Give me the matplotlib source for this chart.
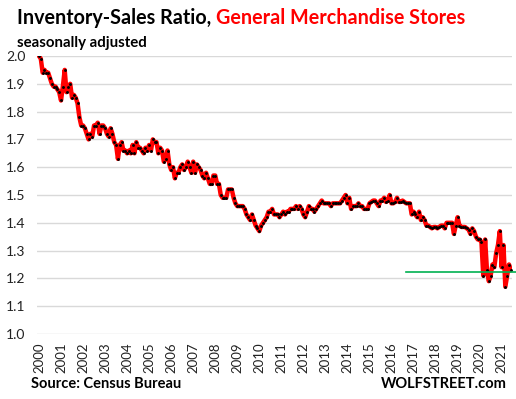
import numpy as np
import matplotlib.pyplot as plt

# monthly inventory-sales ratio, Jan 2000 .. Jun 2021
y2000 = [2.00, 1.99, 1.94, 1.95, 1.94, 1.94, 1.92, 1.90, 1.89, 1.89, 1.88, 1.87]
y2001 = [1.84, 1.89, 1.95, 1.87, 1.89, 1.90, 1.85, 1.86, 1.85, 1.83, 1.78, 1.75]
y2002 = [1.75, 1.74, 1.72, 1.70, 1.72, 1.71, 1.75, 1.75, 1.76, 1.72, 1.75, 1.75]
y2003 = [1.74, 1.72, 1.71, 1.74, 1.72, 1.69, 1.68, 1.63, 1.68, 1.69, 1.66, 1.66]
y2004 = [1.65, 1.66, 1.65, 1.68, 1.65, 1.69, 1.67, 1.67, 1.66, 1.65, 1.67, 1.66]
y2005 = [1.68, 1.66, 1.70, 1.69, 1.69, 1.65, 1.67, 1.66, 1.62, 1.63, 1.66, 1.61]
y2006 = [1.59, 1.60, 1.56, 1.58, 1.58, 1.60, 1.61, 1.59, 1.60, 1.62, 1.60, 1.58]
y2007 = [1.62, 1.58, 1.61, 1.60, 1.59, 1.57, 1.56, 1.58, 1.56, 1.54, 1.54, 1.57]
y2008 = [1.57, 1.54, 1.54, 1.50, 1.49, 1.49, 1.49, 1.52, 1.52, 1.52, 1.49, 1.47]
y2009 = [1.46, 1.46, 1.46, 1.46, 1.45, 1.43, 1.42, 1.41, 1.43, 1.41, 1.39, 1.38]
y2010 = [1.37, 1.39, 1.40, 1.41, 1.42, 1.44, 1.44, 1.45, 1.43, 1.43, 1.43, 1.42]
y2011 = [1.43, 1.44, 1.43, 1.44, 1.44, 1.45, 1.45, 1.45, 1.46, 1.45, 1.46, 1.45]
y2012 = [1.43, 1.42, 1.44, 1.46, 1.45, 1.45, 1.44, 1.45, 1.46, 1.47, 1.48, 1.47]
y2013 = [1.47, 1.47, 1.47, 1.46, 1.47, 1.47, 1.47, 1.47, 1.47, 1.48, 1.49, 1.50]
y2014 = [1.47, 1.49, 1.45, 1.46, 1.46, 1.46, 1.47, 1.46, 1.46, 1.45, 1.45, 1.45]
y2015 = [1.47, 1.475, 1.48, 1.48, 1.47, 1.46, 1.48, 1.48, 1.49, 1.475, 1.48, 1.50]
y2016 = [1.47, 1.47, 1.475, 1.49, 1.475, 1.475, 1.48, 1.475, 1.47, 1.47, 1.47, 1.43]
y2017 = [1.44, 1.43, 1.42, 1.44, 1.41, 1.42, 1.41, 1.39, 1.39, 1.385, 1.38, 1.385]
y2018 = [1.385, 1.38, 1.385, 1.39, 1.39, 1.38, 1.40, 1.40, 1.40, 1.40, 1.36, 1.39]
y2019 = [1.42, 1.39, 1.385, 1.385, 1.385, 1.38, 1.375, 1.36, 1.38, 1.37, 1.35, 1.34]
y2020 = [1.34, 1.33, 1.21, 1.34, 1.23, 1.19, 1.21, 1.25, 1.24, 1.29, 1.32, 1.37]
y2021 = [1.24, 1.32, 1.17, 1.21, 1.25, 1.23]

ratio = (y2000 + y2001 + y2002 + y2003 + y2004 + y2005 + y2006 + y2007 + y2008
         + y2009 + y2010 + y2011 + y2012 + y2013 + y2014 + y2015 + y2016 + y2017
         + y2018 + y2019 + y2020 + y2021)
t = 2000 + np.arange(len(ratio)) / 12.0

years = list(range(2000, 2022))
level = 1.222          # green reference line
level_start = 2016.67

font = 'Lato'
fig = plt.figure(figsize=(5.16, 3.99), dpi=100)
ax = fig.add_axes([37/516, 1 - 334/399, 475/516, 278/399])

ax.plot(t, ratio, color='red', lw=3.2, zorder=3)
ax.plot(t, ratio, 'o', color='black', ms=2.1, mew=0, zorder=4)
ax.plot([level_start, 2021.65], [level, level], color='#00b050', lw=1.2,
        zorder=5, clip_on=False)

ax.set_ylim(1.0, 2.0)
ax.set_xlim(1999.91, 2021.47)
ax.set_yticks(np.arange(1.0, 2.01, 0.1))
ax.set_yticklabels(['%.1f' % v for v in np.arange(1.0, 2.01, 0.1)])
ax.set_xticks(years)
ax.set_xticklabels([str(y) for y in years], rotation=90)
ax.grid(axis='y', color='#d9d9d9', lw=1)
ax.set_axisbelow(True)
for s in ax.spines.values():
    s.set_visible(False)
ax.tick_params(length=0, labelcolor='#222222')
ax.tick_params(axis='y', pad=8.5, labelsize=10)
ax.tick_params(axis='x', pad=6, labelsize=9.5)
for lab in ax.get_xticklabels() + ax.get_yticklabels():
    lab.set_family(font)

t1 = fig.text(17/516, 1 - 18/399, 'Inventory-Sales Ratio, ', fontsize=14.2,
              fontweight='bold', family=font, va='center', ha='left')
fig.canvas.draw()
bb = t1.get_window_extent()
fig.text(bb.x1 / fig.bbox.width, 1 - 18/399, 'General Merchandise Stores',
         fontsize=14.2, fontweight='bold', family=font, color='red',
         va='center', ha='left')
fig.text(17/516, 1 - 43/399, 'seasonally adjusted', fontsize=10.8,
         fontweight='bold', family=font, va='center', ha='left')
fig.text(31/516, 1 - 384/399, 'Source: Census Bureau', fontsize=10.5,
         fontweight='bold', family=font, va='center', ha='left')
fig.text(507/516, 1 - 384/399, 'WOLFSTREET.com', fontsize=10.5,
         fontweight='bold', family=font, va='center', ha='right')

fig.savefig('out.png', dpi=100)
